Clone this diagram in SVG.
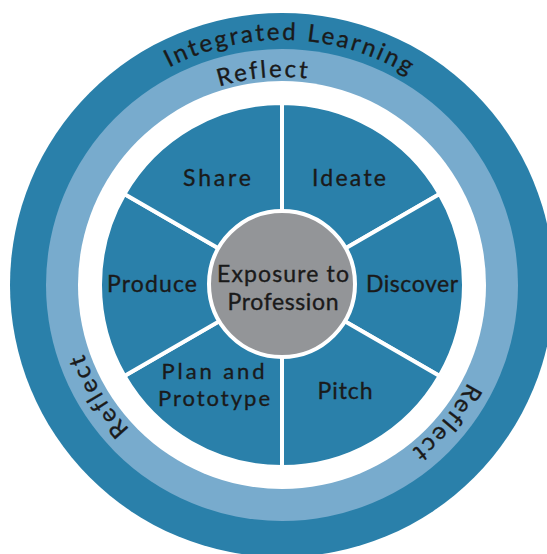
<svg xmlns="http://www.w3.org/2000/svg" width="547" height="554" viewBox="0 0 547 554">
<style>
.dark{fill:#2a80aa}
.light{fill:#78abcd}
.seg{fill:#2a80aa;stroke:#ffffff;stroke-width:4;stroke-linejoin:miter}
.lbl{font-family:Lato,"Noto Sans",sans-serif;font-size:23px;fill:#1a1a1a;stroke:#1a1a1a;stroke-width:0.35;text-anchor:middle}
.arc{font-family:Lato,"Noto Sans",sans-serif;font-size:24px;fill:#1a1a1a;stroke:#1a1a1a;stroke-width:0.35;text-anchor:middle}
</style>
<defs>
<path id="pIL" d="M42.35,234.06 A245,245 0 0 1 524.62,250.90"/>
<path id="pRt" d="M74.79,266.87 A208,208 0 0 1 482.91,231.17"/>
<path id="pRl" d="M357.26,481.05 A210,210 0 0 1 144.23,126.51"/>
<path id="pRr" d="M442.87,150.01 A210,210 0 0 1 177,466.87"/>
</defs>
<g id="rings">
<circle class="dark" cx="282" cy="285" r="272"/>
<circle class="light" cx="282" cy="285" r="236"/>
<circle fill="#ffffff" cx="282" cy="285" r="204"/>
<text class="arc" letter-spacing="2.5"><textPath href="#pIL" startOffset="50%">Integrated Learning</textPath></text>
<text class="arc" letter-spacing="2.5"><textPath href="#pRt" startOffset="50%">Reflect</textPath></text>
<text class="arc" letter-spacing="2.5"><textPath href="#pRl" startOffset="50%">Reflect</textPath></text>
<text class="arc" letter-spacing="2.5"><textPath href="#pRr" startOffset="50%">Reflect</textPath></text>
</g>
<g id="connectors"></g>
<g id="ideate">
<path class="seg" d="M282,285 L282,103 A182,182 0 0 1 439.62,194 Z"/>
<text class="lbl" x="349" y="186" textLength="74">Ideate</text>
</g>
<g id="discover">
<path class="seg" d="M282,285 L439.62,194 A182,182 0 0 1 439.62,376 Z"/>
<text class="lbl" x="412" y="292" textLength="92">Discover</text>
</g>
<g id="pitch">
<path class="seg" d="M282,285 L439.62,376 A182,182 0 0 1 282,467 Z"/>
<text class="lbl" x="345" y="399" textLength="55">Pitch</text>
</g>
<g id="plan">
<path class="seg" d="M282,285 L282,467 A182,182 0 0 1 124.38,376 Z"/>
<text class="lbl" x="213" y="379" textLength="103" style="font-size:22px">Plan and</text>
<text class="lbl" x="214" y="406" textLength="112" style="font-size:22px">Prototype</text>
</g>
<g id="produce">
<path class="seg" d="M282,285 L124.38,376 A182,182 0 0 1 124.38,194 Z"/>
<text class="lbl" x="152" y="292" textLength="90">Produce</text>
</g>
<g id="share">
<path class="seg" d="M282,285 L124.38,194 A182,182 0 0 1 282,103 Z"/>
<text class="lbl" x="217" y="186" textLength="68">Share</text>
</g>
<g id="exposure">
<circle cx="282" cy="284" r="73" fill="#939598" stroke="#ffffff" stroke-width="4"/>
<text class="lbl" x="283" y="282" textLength="132">Exposure to</text>
<text class="lbl" x="283" y="310" textLength="111">Profession</text>
</g>
</svg>
